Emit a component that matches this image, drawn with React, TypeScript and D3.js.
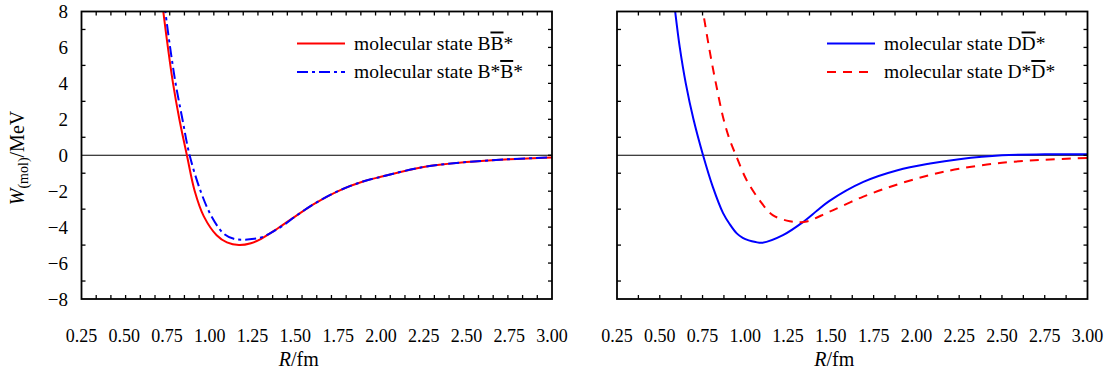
import React from "react";
import * as d3 from "d3";

// R (fm) and W_(mol) (MeV)
const R_BB = [0.722, 0.728, 0.755, 0.785, 0.822, 0.866, 0.912, 0.965, 1.04, 1.1, 1.17, 1.24, 1.3, 1.4, 1.5, 1.62, 1.76, 1.9, 2.0, 2.25, 2.5, 2.75, 3.0];
const W_BB = [8.5, 8.0, 6.0, 4.0, 2.0, 0.0, -2.0, -3.4, -4.45, -4.85, -5.0, -4.9, -4.65, -4.05, -3.4, -2.65, -1.95, -1.45, -1.2, -0.65, -0.38, -0.22, -0.12];

const R_BsBs = [0.734, 0.74, 0.768, 0.8, 0.84, 0.882, 0.95, 1.01, 1.08, 1.14, 1.2, 1.26, 1.31, 1.37, 1.43, 1.5, 1.62, 1.76, 1.9, 2.0, 2.25, 2.5, 2.75, 3.0];
const W_BsBs = [8.5, 8.0, 6.0, 4.0, 2.0, 0.0, -2.1, -3.4, -4.35, -4.65, -4.7, -4.65, -4.54, -4.25, -3.9, -3.4, -2.65, -1.95, -1.45, -1.2, -0.65, -0.38, -0.22, -0.12];

const R_DD = [0.584, 0.59, 0.617, 0.652, 0.697, 0.753, 0.81, 0.87, 0.91, 0.95, 0.985, 1.02, 1.06, 1.1, 1.22, 1.34, 1.42, 1.49, 1.69, 1.89, 2.08, 2.25, 2.5, 2.75, 3.0];
const W_DD = [8.5, 8.0, 6.0, 4.0, 2.0, 0.0, -1.76, -3.22, -3.85, -4.35, -4.6, -4.74, -4.83, -4.87, -4.45, -3.7, -3.08, -2.55, -1.48, -0.83, -0.46, -0.22, 0.0, 0.05, 0.05];

const R_DsDs = [0.746, 0.753, 0.788, 0.828, 0.873, 0.91, 0.945, 1.008, 1.09, 1.16, 1.26, 1.35, 1.49, 1.69, 1.89, 2.08, 2.25, 2.5, 2.75, 3.0];
const W_DsDs = [8.5, 8.0, 6.0, 4.0, 2.0, 0.83, 0.0, -1.39, -2.59, -3.33, -3.67, -3.7, -3.15, -2.3, -1.62, -1.1, -0.75, -0.42, -0.25, -0.15];

const xTickLabels = [0.25, 0.5, 0.75, 1.0, 1.25, 1.5, 1.75, 2.0, 2.25, 2.5, 2.75, 3.0];
const yTickLabels = [8, 6, 4, 2, 0, -2, -4, -6, -8];

interface Series {
  r: number[];
  w: number[];
  color: string;
  dash?: string;
  pre: string; // text before the barred letter
  bar: string; // barred letter
}

const leftSeries: Series[] = [
  { r: R_BB, w: W_BB, color: "#ff0000", pre: "molecular state B", bar: "B" },
  { r: R_BsBs, w: W_BsBs, color: "#0000ff", dash: "11,4,3,4", pre: "molecular state B*", bar: "B" },
];
const rightSeries: Series[] = [
  { r: R_DD, w: W_DD, color: "#0000ff", pre: "molecular state D", bar: "D" },
  { r: R_DsDs, w: W_DsDs, color: "#ff0000", dash: "9,7", pre: "molecular state D*", bar: "D" },
];

const FONT = "Liberation Serif";
const TOP = 11.5;
const BOTTOM = 299;
const y = d3.scaleLinear().domain([8, -8]).range([TOP, BOTTOM]);
const fmt = d3.format(".2f");

interface PanelProps {
  id: string;
  x0: number;
  x1: number;
  series: Series[];
  nTicks: number;
  legendX: number;
  showY: boolean;
}

function Panel({ id, x0, x1, series, nTicks, legendX, showY }: PanelProps) {
  const x = d3.scaleLinear().domain([0.25, 3.0]).range([x0, x1]);
  const step = 2.75 / nTicks;
  const tv = d3.range(1, nTicks).map((i) => 0.25 + i * step);
  const line = d3.line().curve(d3.curveCatmullRom.alpha(0.5));

  return (
    <g>
      <clipPath id={id}>
        <rect x={x0} y={TOP} width={x1 - x0} height={BOTTOM - TOP} />
      </clipPath>
      <line x1={x0} x2={x1} y1={y(0)} y2={y(0)} stroke="#000" strokeWidth={1.2} />
      {series.map((s, k) => (
        <path
          key={k}
          d={line(s.r.map((r, i) => [x(r), y(s.w[i])] as [number, number])) || ""}
          fill="none"
          stroke={s.color}
          strokeWidth={2}
          strokeDasharray={s.dash}
          clipPath={`url(#${id})`}
        />
      ))}
      {tv.map((d, i) => (
        <g key={"t" + i} stroke="#000" strokeWidth={1.3}>
          <line x1={x(d)} x2={x(d)} y1={TOP} y2={TOP + 4} />
          <line x1={x(d)} x2={x(d)} y1={BOTTOM} y2={BOTTOM - 4} />
        </g>
      ))}
      {d3.range(-7, 8).map((d) => (
        <line key={"r" + d} x1={x1} x2={x1 - 4} y1={y(d)} y2={y(d)} stroke="#000" strokeWidth={1.3} />
      ))}
      {[-7, -5, -3, -1, 1, 3, 5, 7].map((d) => (
        <line key={"l" + d} x1={x0} x2={x0 + 4} y1={y(d)} y2={y(d)} stroke="#000" strokeWidth={1.3} />
      ))}
      <rect x={x0} y={TOP} width={x1 - x0} height={BOTTOM - TOP} fill="none" stroke="#000" strokeWidth={1.8} />

      {xTickLabels.map((d) => (
        <text key={"x" + d} x={x(d)} y={342} textAnchor="middle" fontSize={18} fontFamily={FONT}>
          {fmt(d)}
        </text>
      ))}
      <text x={(x0 + x1) / 2 - 18} y={366} textAnchor="middle" fontSize={20} fontFamily={FONT}>
        <tspan fontStyle="italic">R</tspan>
        <tspan>/fm</tspan>
      </text>

      {showY && (
        <>
          {yTickLabels.map((d) => (
            <text key={"y" + d} x={68} y={y(d) + 6.5} textAnchor="end" fontSize={19} fontFamily={FONT}>
              {d < 0 ? `\u2212${-d}` : `${d}`}
            </text>
          ))}
          <text transform="translate(24,158) rotate(-90)" textAnchor="middle" fontSize={20} fontFamily={FONT}>
            <tspan fontStyle="italic">W</tspan>
            <tspan fontSize={14} dy={4}>(mol)</tspan>
            <tspan dy={-4}>/MeV</tspan>
          </text>
        </>
      )}

      {series.map((s, i) => {
        const ly = 43.5 + i * 28.5;
        return (
          <g key={"lg" + i}>
            <line x1={legendX} x2={legendX + 48} y1={ly} y2={ly} stroke={s.color} strokeWidth={2} strokeDasharray={s.dash} />
            <text x={legendX + 57} y={ly + 6} fontSize={19.5} fontFamily={FONT}>
              <tspan>{s.pre}</tspan>
              <tspan style={{ textDecoration: "overline" }}>{s.bar}</tspan>
              <tspan>*</tspan>
            </text>
          </g>
        );
      })}
    </g>
  );
}

export default function App() {
  return (
    <svg width={1110} height={373} viewBox="0 0 1110 373" style={{ position: "absolute", left: 0, top: 0, background: "#fff" }}>
      <Panel id="clipL" x0={81.5} x1={552} series={leftSeries} nTicks={32} legendX={297} showY={true} />
      <Panel id="clipR" x0={617} x1={1087.5} series={rightSeries} nTicks={22} legendX={827} showY={false} />
    </svg>
  );
}
